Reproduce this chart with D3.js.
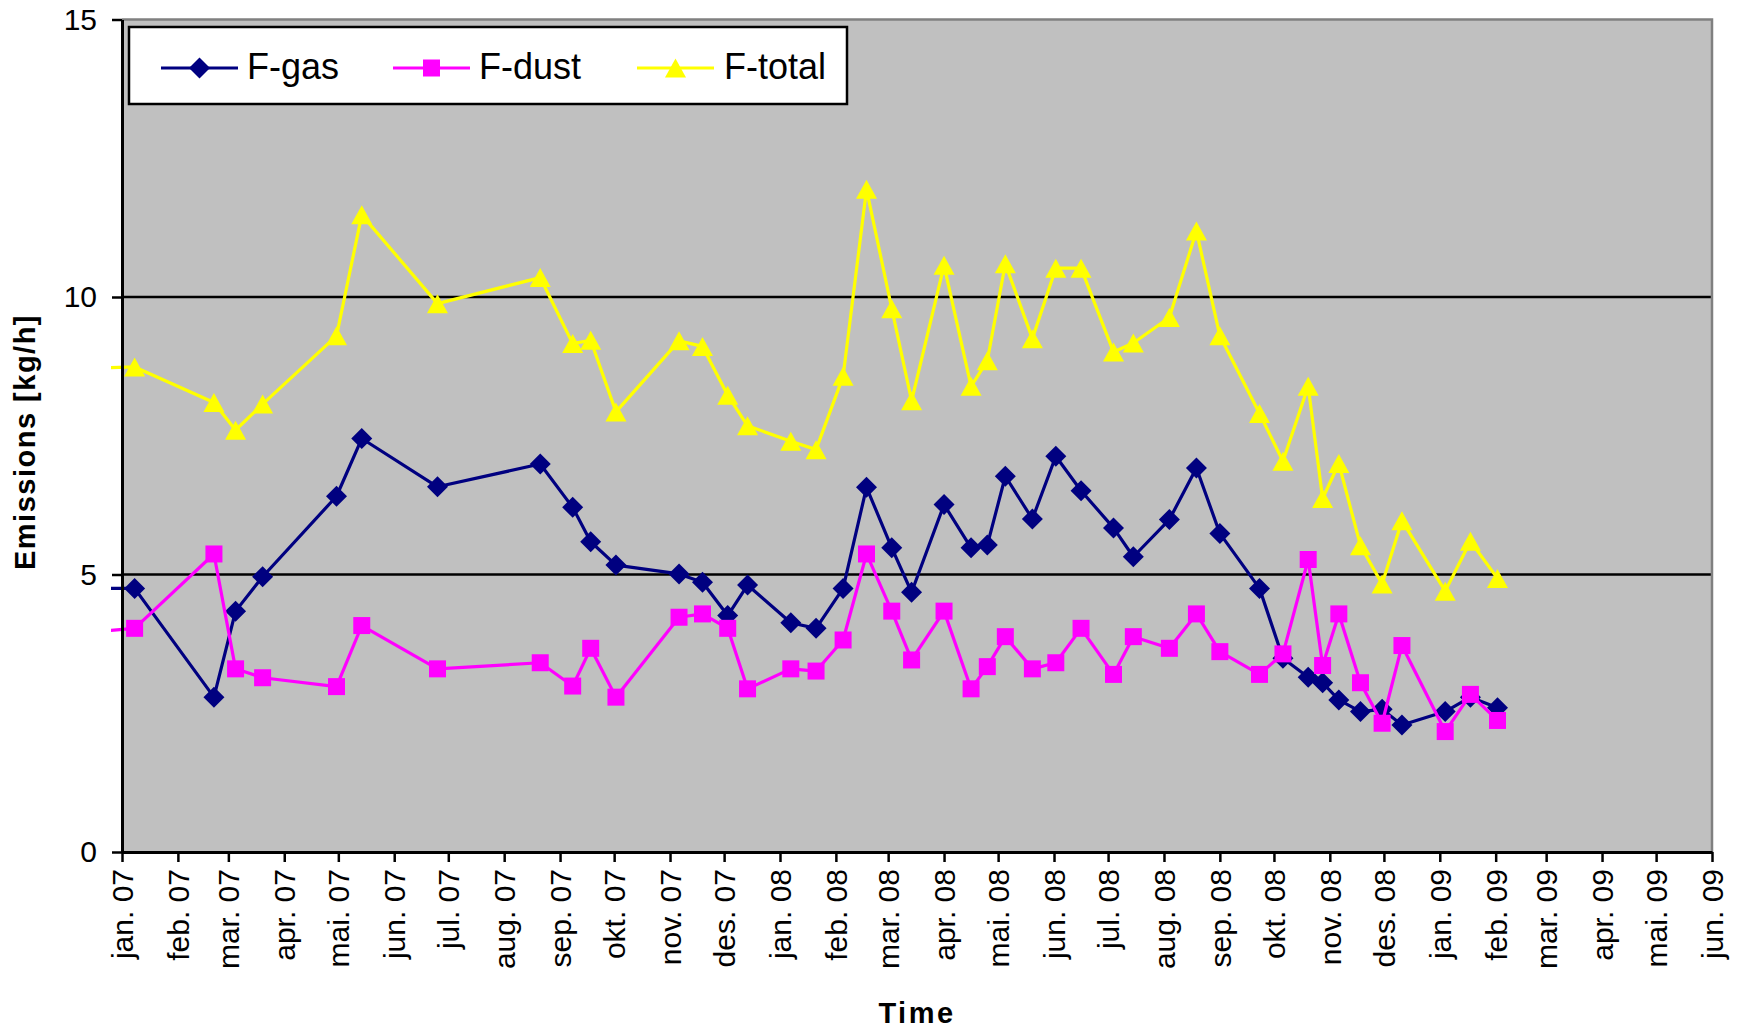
<!DOCTYPE html>
<html>
<head>
<meta charset="utf-8">
<script src="https://cdn.jsdelivr.net/npm/d3@7"></script>
<style>
  body { margin: 0; background: #fff; }
  svg { display: block; }
  text { font-family: Arial, "Liberation Sans", sans-serif; fill: #000; }
</style>
</head>
<body>
<svg id="chart" width="1746" height="1030"></svg>
<script>
// Sampling dates (first entry is the last sample of the previous year, cut off at the axis)
const sampleDates = [
  "2006-12-18",
  "2007-01-08", "2007-02-21", "2007-03-05", "2007-03-20", "2007-04-30", "2007-05-14",
  "2007-06-25", "2007-08-21", "2007-09-08", "2007-09-18", "2007-10-02", "2007-11-06",
  "2007-11-19", "2007-12-03", "2007-12-14", "2008-01-07", "2008-01-21", "2008-02-05",
  "2008-02-18", "2008-03-03", "2008-03-14", "2008-04-01", "2008-04-16", "2008-04-25",
  "2008-05-05", "2008-05-20", "2008-06-02", "2008-06-16", "2008-07-04", "2008-07-15",
  "2008-08-04", "2008-08-19", "2008-09-01", "2008-09-23", "2008-10-06", "2008-10-20",
  "2008-10-28", "2008-11-06", "2008-11-18", "2008-11-30", "2008-12-11", "2009-01-04",
  "2009-01-18", "2009-02-02"
];

// Emissions in kg/h
const fGas = [
  4.75,
  4.75, 2.79, 4.34, 4.96, 6.41, 7.45, 6.58, 6.99, 6.21, 5.59, 5.17, 5.01,
  4.86, 4.26, 4.81, 4.13, 4.03, 4.75, 6.57, 5.48, 4.68, 6.26, 5.48, 5.53,
  6.77, 6.00, 7.13, 6.51, 5.84, 5.32, 5.99, 6.92, 5.74, 4.75, 3.49, 3.15,
  3.05, 2.74, 2.53, 2.57, 2.29, 2.53, 2.79, 2.60
];
const fDust = [
  3.97,
  4.03, 5.37, 3.30, 3.14, 2.98, 4.08, 3.30, 3.41, 2.99, 3.67, 2.79, 4.23,
  4.29, 4.03, 2.94, 3.30, 3.26, 3.82, 5.37, 4.34, 3.46, 4.34, 2.94, 3.34,
  3.88, 3.30, 3.41, 4.03, 3.20, 3.88, 3.67, 4.29, 3.61, 3.20, 3.57, 5.27,
  3.36, 4.29, 3.05, 2.32, 3.72, 2.17, 2.84, 2.37
];
const fTotal = [
  8.72,
  8.74, 8.10, 7.60, 8.07, 9.30, 11.48, 9.88, 10.35, 9.16, 9.22, 7.93, 9.21,
  9.11, 8.23, 7.68, 7.40, 7.25, 8.57, 11.94, 9.79, 8.13, 10.57, 8.39, 8.85,
  10.60, 9.25, 10.52, 10.52, 9.01, 9.17, 9.63, 11.19, 9.30, 7.90, 7.04, 8.39,
  6.37, 7.00, 5.52, 4.83, 5.97, 4.70, 5.60, 4.93
];

const seriesNames = ["F-gas", "F-dust", "F-total"];
const monthNames = ["jan", "feb", "mar", "apr", "mai", "jun", "jul", "aug", "sep", "okt", "nov", "des"];
const yTicks = [0, 5, 10, 15];
const axisStart = "2007-01-01";
const axisEnd = "2009-06-01";

// ---- layout ----
const plot = { left: 122, right: 1712, top: 19.5, bottom: 852 };
const parse = d3.timeParse("%Y-%m-%d");
const svg = d3.select("#chart");

const x = d3.scaleTime().domain([parse(axisStart), parse(axisEnd)]).range([plot.left, plot.right]);
const y = d3.scaleLinear().domain([0, 15]).range([plot.bottom, plot.top]);

const styles = [
  { color: "#000080", marker: "M0,-10.5L10.5,0L0,10.5L-10.5,0Z" },
  { color: "#FF00FF", marker: "M-8.5,-8.5H8.5V8.5H-8.5Z" },
  { color: "#FFFF00", marker: "M0,-9.5L10.5,9.5L-10.5,9.5Z" }
];

const series = [fGas, fDust, fTotal].map((vals, i) => ({
  name: seriesNames[i],
  style: styles[i],
  points: vals.map((v, j) => ({ date: parse(sampleDates[j]), v }))
}));

// plot background
svg.append("rect")
  .attr("x", plot.left).attr("y", plot.top)
  .attr("width", plot.right - plot.left).attr("height", plot.bottom - plot.top)
  .attr("fill", "#C0C0C0");

// horizontal gridlines
svg.append("g").selectAll("line")
  .data(yTicks.filter(t => t > 0 && t < 15))
  .join("line")
  .attr("x1", plot.left).attr("x2", plot.right)
  .attr("y1", d => y(d)).attr("y2", d => y(d))
  .attr("stroke", "#000").attr("stroke-width", 2.6);

// top and right border of the plot area
svg.append("path")
  .attr("d", `M${plot.left},${y(15)}H${plot.right}V${plot.bottom}`)
  .attr("fill", "none").attr("stroke", "#808080").attr("stroke-width", 2.5);

// clip: lines may run a few pixels past the value axis
svg.append("clipPath").attr("id", "clip")
  .append("rect")
  .attr("x", plot.left - 11).attr("y", 0)
  .attr("width", plot.right - plot.left + 11).attr("height", plot.bottom);

const line = d3.line().x(d => x(d.date)).y(d => y(d.v));
const dataLayer = svg.append("g").attr("clip-path", "url(#clip)");

series.forEach(s => {
  const g = dataLayer.append("g");
  g.append("path")
    .datum(s.points)
    .attr("d", line)
    .attr("fill", "none")
    .attr("stroke", s.style.color)
    .attr("stroke-width", 3.2)
    .attr("stroke-linejoin", "round");
  g.selectAll("path.marker")
    .data(s.points)
    .join("path")
    .attr("class", "marker")
    .attr("d", s.style.marker)
    .attr("transform", d => `translate(${x(d.date)},${y(d.v)})`)
    .attr("fill", s.style.color);
});

// ---- axes ----
const months = d3.timeMonth.range(parse(axisStart), d3.timeDay.offset(parse(axisEnd), 1));
const xAxis = d3.axisBottom(x)
  .tickValues(months)
  .tickSize(10)
  .tickSizeOuter(0)
  .tickFormat(d => `${monthNames[d.getMonth()]}. ${String(d.getFullYear()).slice(2)}`);

const gx = svg.append("g")
  .attr("transform", `translate(0,${plot.bottom})`)
  .call(xAxis);
gx.select(".domain").attr("stroke", "#000").attr("stroke-width", 3);
gx.selectAll(".tick line").attr("stroke", "#000").attr("stroke-width", 2.5);
gx.selectAll(".tick text")
  .attr("transform", "rotate(-90)")
  .attr("x", -17)
  .attr("y", 0)
  .attr("dy", "0.35em")
  .style("text-anchor", "end")
  .style("font-size", "30px")
  .style("font-family", "Arial, 'Liberation Sans', sans-serif");

const yAxis = d3.axisLeft(y)
  .tickValues(yTicks)
  .tickSize(10)
  .tickSizeOuter(0)
  .tickPadding(15)
  .tickFormat(d3.format("d"));

const gy = svg.append("g")
  .attr("transform", `translate(${plot.left},0)`)
  .call(yAxis);
gy.select(".domain").attr("stroke", "#000").attr("stroke-width", 3);
gy.selectAll(".tick line").attr("stroke", "#000").attr("stroke-width", 2.5);
gy.selectAll(".tick text")
  .style("font-size", "30px")
  .style("font-family", "Arial, 'Liberation Sans', sans-serif");

// axis titles
svg.append("text")
  .attr("x", (plot.left + plot.right) / 2)
  .attr("y", 1023)
  .attr("text-anchor", "middle")
  .style("font-size", "29px")
  .style("font-weight", "bold")
  .style("letter-spacing", "2.5px")
  .text("Time");

svg.append("text")
  .attr("transform", `translate(35,442) rotate(-90)`)
  .attr("text-anchor", "middle")
  .style("font-size", "29px")
  .style("font-weight", "bold")
  .style("letter-spacing", "1.5px")
  .text("Emissions [kg/h]");

// ---- legend ----
const legend = svg.append("g");
legend.append("rect")
  .attr("x", 129).attr("y", 27)
  .attr("width", 718).attr("height", 77)
  .attr("fill", "#fff")
  .attr("stroke", "#000").attr("stroke-width", 2.5);

const legendItems = [
  { lineX: 161, textX: 247 },
  { lineX: 393, textX: 479 },
  { lineX: 637, textX: 724 }
];
series.forEach((s, i) => {
  const it = legendItems[i];
  const ly = 68;
  legend.append("line")
    .attr("x1", it.lineX).attr("x2", it.lineX + 77)
    .attr("y1", ly).attr("y2", ly)
    .attr("stroke", s.style.color).attr("stroke-width", 3.2);
  legend.append("path")
    .attr("d", s.style.marker)
    .attr("transform", `translate(${it.lineX + 38.5},${ly})`)
    .attr("fill", s.style.color);
  legend.append("text")
    .attr("x", it.textX).attr("y", 79)
    .style("font-size", "36px")
    .text(s.name);
});
</script>
</body>
</html>
